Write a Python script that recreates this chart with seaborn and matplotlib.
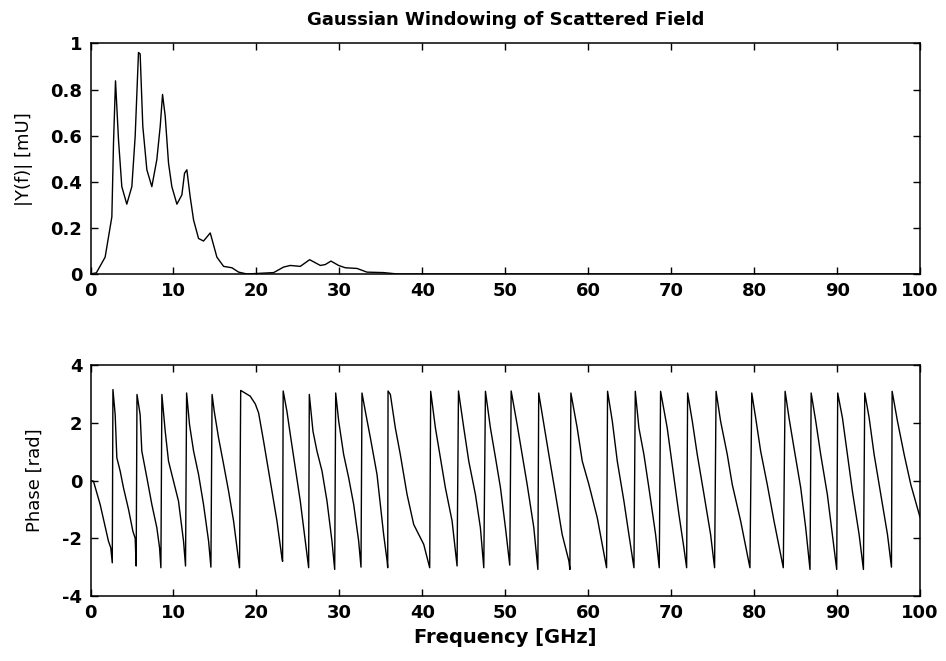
import matplotlib
matplotlib.use("Agg")
import matplotlib.pyplot as plt
from matplotlib.ticker import FuncFormatter
import seaborn as sns
import pandas as pd

# ---- data ----
mag_freq = [0.0, 0.7, 1.76, 2.57, 2.77, 3.01, 3.37, 3.77, 4.37, 4.98, 5.38, 5.78, 5.98,
            6.3, 6.79, 7.39, 7.99, 8.4, 8.68, 9.0, 9.4, 9.8, 10.41, 11.01, 11.33, 11.61,
            12.01, 12.42, 13.02, 13.62, 14.43, 15.23, 16.04, 17.04, 17.85, 18.85, 22.07,
            23.27, 24.08, 25.28, 26.41, 27.7, 28.3, 28.98, 29.9, 30.71, 32.12, 33.32,
            35.33, 37.0, 100.0]
mag_vals = [0.0, 0.005, 0.073, 0.248, 0.569, 0.838, 0.583, 0.379, 0.303, 0.379, 0.597,
            0.961, 0.955, 0.641, 0.452, 0.379, 0.496, 0.641, 0.779, 0.685, 0.481, 0.379,
            0.303, 0.343, 0.437, 0.452, 0.335, 0.234, 0.154, 0.143, 0.178, 0.073, 0.033,
            0.027, 0.008, 0.0, 0.006, 0.03, 0.037, 0.033, 0.062, 0.037, 0.041, 0.056,
            0.037, 0.027, 0.024, 0.008, 0.006, 0.0, 0.0]

phase_freq = [0.0, 0.35, 1.16, 2.16, 2.44, 2.62,
              2.7, 2.97, 3.17, 3.57, 3.97, 4.58, 5.1, 5.38, 5.5,
              5.6, 5.98, 6.18, 6.79, 7.39, 7.99, 8.32, 8.48,
              8.6, 9.0, 9.4, 10.0, 10.6, 11.21, 11.45,
              11.58, 11.93, 12.42, 13.02, 13.62, 14.23, 14.51,
              14.65, 14.91, 15.43, 16.04, 16.64, 17.24, 17.96,
              18.1, 19.25, 19.86, 20.26, 20.86, 21.67, 22.47, 23.07, 23.15,
              23.22, 23.67, 24.08, 24.68, 25.28, 25.89, 26.29,
              26.37, 26.81, 27.29, 27.9, 28.5, 29.1, 29.43,
              29.55, 29.91, 30.51, 31.11, 31.72, 32.32, 32.6,
              32.72, 33.12, 33.73, 34.53, 35.33, 35.75, 35.82,
              35.86, 36.14, 36.74, 37.34, 38.15, 38.95, 40.16, 40.88,
              41.0, 41.57, 42.17, 42.77, 43.58, 44.18,
              44.35, 44.99, 45.59, 46.39, 46.99, 47.4,
              47.6, 48.2, 48.81, 49.41, 50.01, 50.53,
              50.7, 51.42, 52.02, 52.63, 53.43, 53.92,
              54.02, 54.64, 55.24, 56.05, 56.85, 57.66, 57.78,
              57.9, 58.66, 59.27, 60.07, 61.08, 62.2,
              62.32, 62.89, 63.49, 64.29, 64.89, 65.5,
              65.66, 66.1, 66.7, 67.3, 68.11, 68.55,
              68.71, 69.51, 70.32, 70.92, 71.52, 71.85,
              71.97, 72.53, 73.13, 73.94, 74.74, 75.22,
              75.4, 75.94, 76.75, 77.35, 78.36, 79.48,
              79.7, 80.17, 80.77, 81.57, 82.38, 83.5,
              83.72, 84.19, 84.79, 85.6, 86.2, 86.72,
              86.86, 87.41, 88.01, 88.81, 89.42, 89.94,
              90.06, 90.63, 91.23, 91.83, 92.64, 93.16,
              93.32, 93.85, 94.45, 95.25, 96.06, 96.54,
              96.62, 97.26, 98.07, 98.87, 100.0]
phase_vals = [0.0, -0.02, -0.83, -2.1, -2.33, -2.85,
              3.15, 2.28, 0.79, 0.33, -0.25, -1.0, -1.75, -2.0, -2.96,
              2.98, 2.28, 1.02, 0.1, -0.83, -1.63, -2.33, -3.02,
              2.98, 1.71, 0.67, -0.02, -0.71, -2.1, -2.96,
              3.03, 1.94, 1.02, 0.21, -0.83, -2.1, -3.0,
              2.98, 2.4, 1.48, 0.56, -0.37, -1.4, -3.02,
              3.12, 2.92, 2.65, 2.34, 1.36, -0.02, -1.4, -2.68, -2.8,
              3.1, 2.4, 1.59, 0.44, -0.71, -2.1, -3.02,
              2.98, 1.71, 1.02, 0.33, -0.71, -2.1, -3.08,
              3.03, 2.06, 0.9, 0.1, -0.83, -2.1, -3.0,
              3.03, 2.4, 1.48, 0.21, -1.87, -2.79, -3.02,
              3.1, 2.98, 1.82, 0.9, -0.48, -1.52, -2.21, -3.02,
              3.09, 1.82, 0.79, -0.25, -1.4, -2.96,
              3.1, 1.82, 0.67, -0.48, -1.63, -3.02,
              3.09, 1.82, 0.79, -0.25, -1.63, -2.93,
              3.1, 1.94, 0.9, -0.14, -1.63, -3.08,
              3.03, 1.94, 0.9, -0.48, -1.87, -2.79, -3.08,
              3.03, 1.82, 0.67, -0.14, -1.29, -3.02,
              3.09, 2.06, 0.67, -0.71, -1.87, -3.02,
              3.09, 1.82, 0.9, -0.25, -1.87, -3.02,
              3.09, 1.82, 0.1, -1.17, -2.33, -3.02,
              3.03, 2.06, 0.9, -0.48, -1.87, -3.02,
              3.09, 2.06, 0.9, -0.14, -1.4, -3.02,
              3.03, 2.17, 1.02, -0.14, -1.4, -3.02,
              3.09, 2.17, 1.13, -0.25, -1.63, -3.08,
              3.03, 2.06, 0.9, -0.48, -1.87, -3.08,
              3.03, 2.17, 0.9, -0.37, -1.87, -3.08,
              3.03, 2.17, 0.9, -0.48, -1.87, -3.0,
              3.09, 2.06, 0.9, -0.14, -1.29]

x_ticks = [0, 10, 20, 30, 40, 50, 60, 70, 80, 90, 100]
mag_ticks = [0, 0.2, 0.4, 0.6, 0.8, 1]
phase_ticks = [-4, -2, 0, 2, 4]

title_text = "Gaussian Windowing of Scattered Field"
mag_label = "|Y(f)| [mU]"
phase_label = "Phase [rad]"
x_label = "Frequency [GHz]"

# ---- style ----
sns.set_style("ticks")
plt.rcParams["font.family"] = ["DejaVu Sans"]
plt.rcParams["axes.unicode_minus"] = False
plt.rcParams["text.color"] = "black"
plt.rcParams["axes.labelcolor"] = "black"

fig = plt.figure(figsize=(9.46, 6.61), dpi=100)
ax1 = fig.add_axes([0.0957, 0.5855, 0.877, 0.3487])
ax2 = fig.add_axes([0.0957, 0.0983, 0.877, 0.3495])

df_mag = pd.DataFrame({"f": mag_freq, "m": mag_vals})
df_ph = pd.DataFrame({"f": phase_freq, "p": phase_vals})

sns.lineplot(data=df_mag, x="f", y="m", ax=ax1, color="black", linewidth=1.0,
             sort=False, estimator=None)
sns.lineplot(data=df_ph, x="f", y="p", ax=ax2, color="black", linewidth=1.0,
             sort=False, estimator=None)

fmt = FuncFormatter(lambda v, pos: "%g" % v)
for ax, yt, ylim in ((ax1, mag_ticks, (0, 1)), (ax2, phase_ticks, (-4, 4))):
    ax.set_xlim(0, 100)
    ax.set_ylim(*ylim)
    ax.set_xticks(x_ticks)
    ax.set_yticks(yt)
    ax.xaxis.set_major_formatter(fmt)
    ax.yaxis.set_major_formatter(fmt)
    ax.tick_params(direction="in", length=5, width=1, top=True, right=True,
                   labelsize=13, colors="black")
    ax.tick_params(axis="x", pad=6)
    ax.tick_params(axis="y", pad=6)
    for lab in ax.get_xticklabels() + ax.get_yticklabels():
        lab.set_fontweight("bold")
    for sp in ax.spines.values():
        sp.set_visible(True)
        sp.set_color("black")
        sp.set_linewidth(1.1)
    ax.set_xlabel("")
    ax.set_ylabel("")

ax1.set_title(title_text, fontsize=13, fontweight="bold", pad=13, color="black")
ax1.set_ylabel(mag_label, fontsize=13, color="black")
ax1.yaxis.set_label_coords(-0.069, 0.5)
ax2.set_ylabel(phase_label, fontsize=13, color="black")
ax2.yaxis.set_label_coords(-0.057, 0.5)
ax2.set_xlabel(x_label, fontsize=14, fontweight="bold", labelpad=4, color="black")

fig.savefig("out.png", dpi=100, facecolor="white")
